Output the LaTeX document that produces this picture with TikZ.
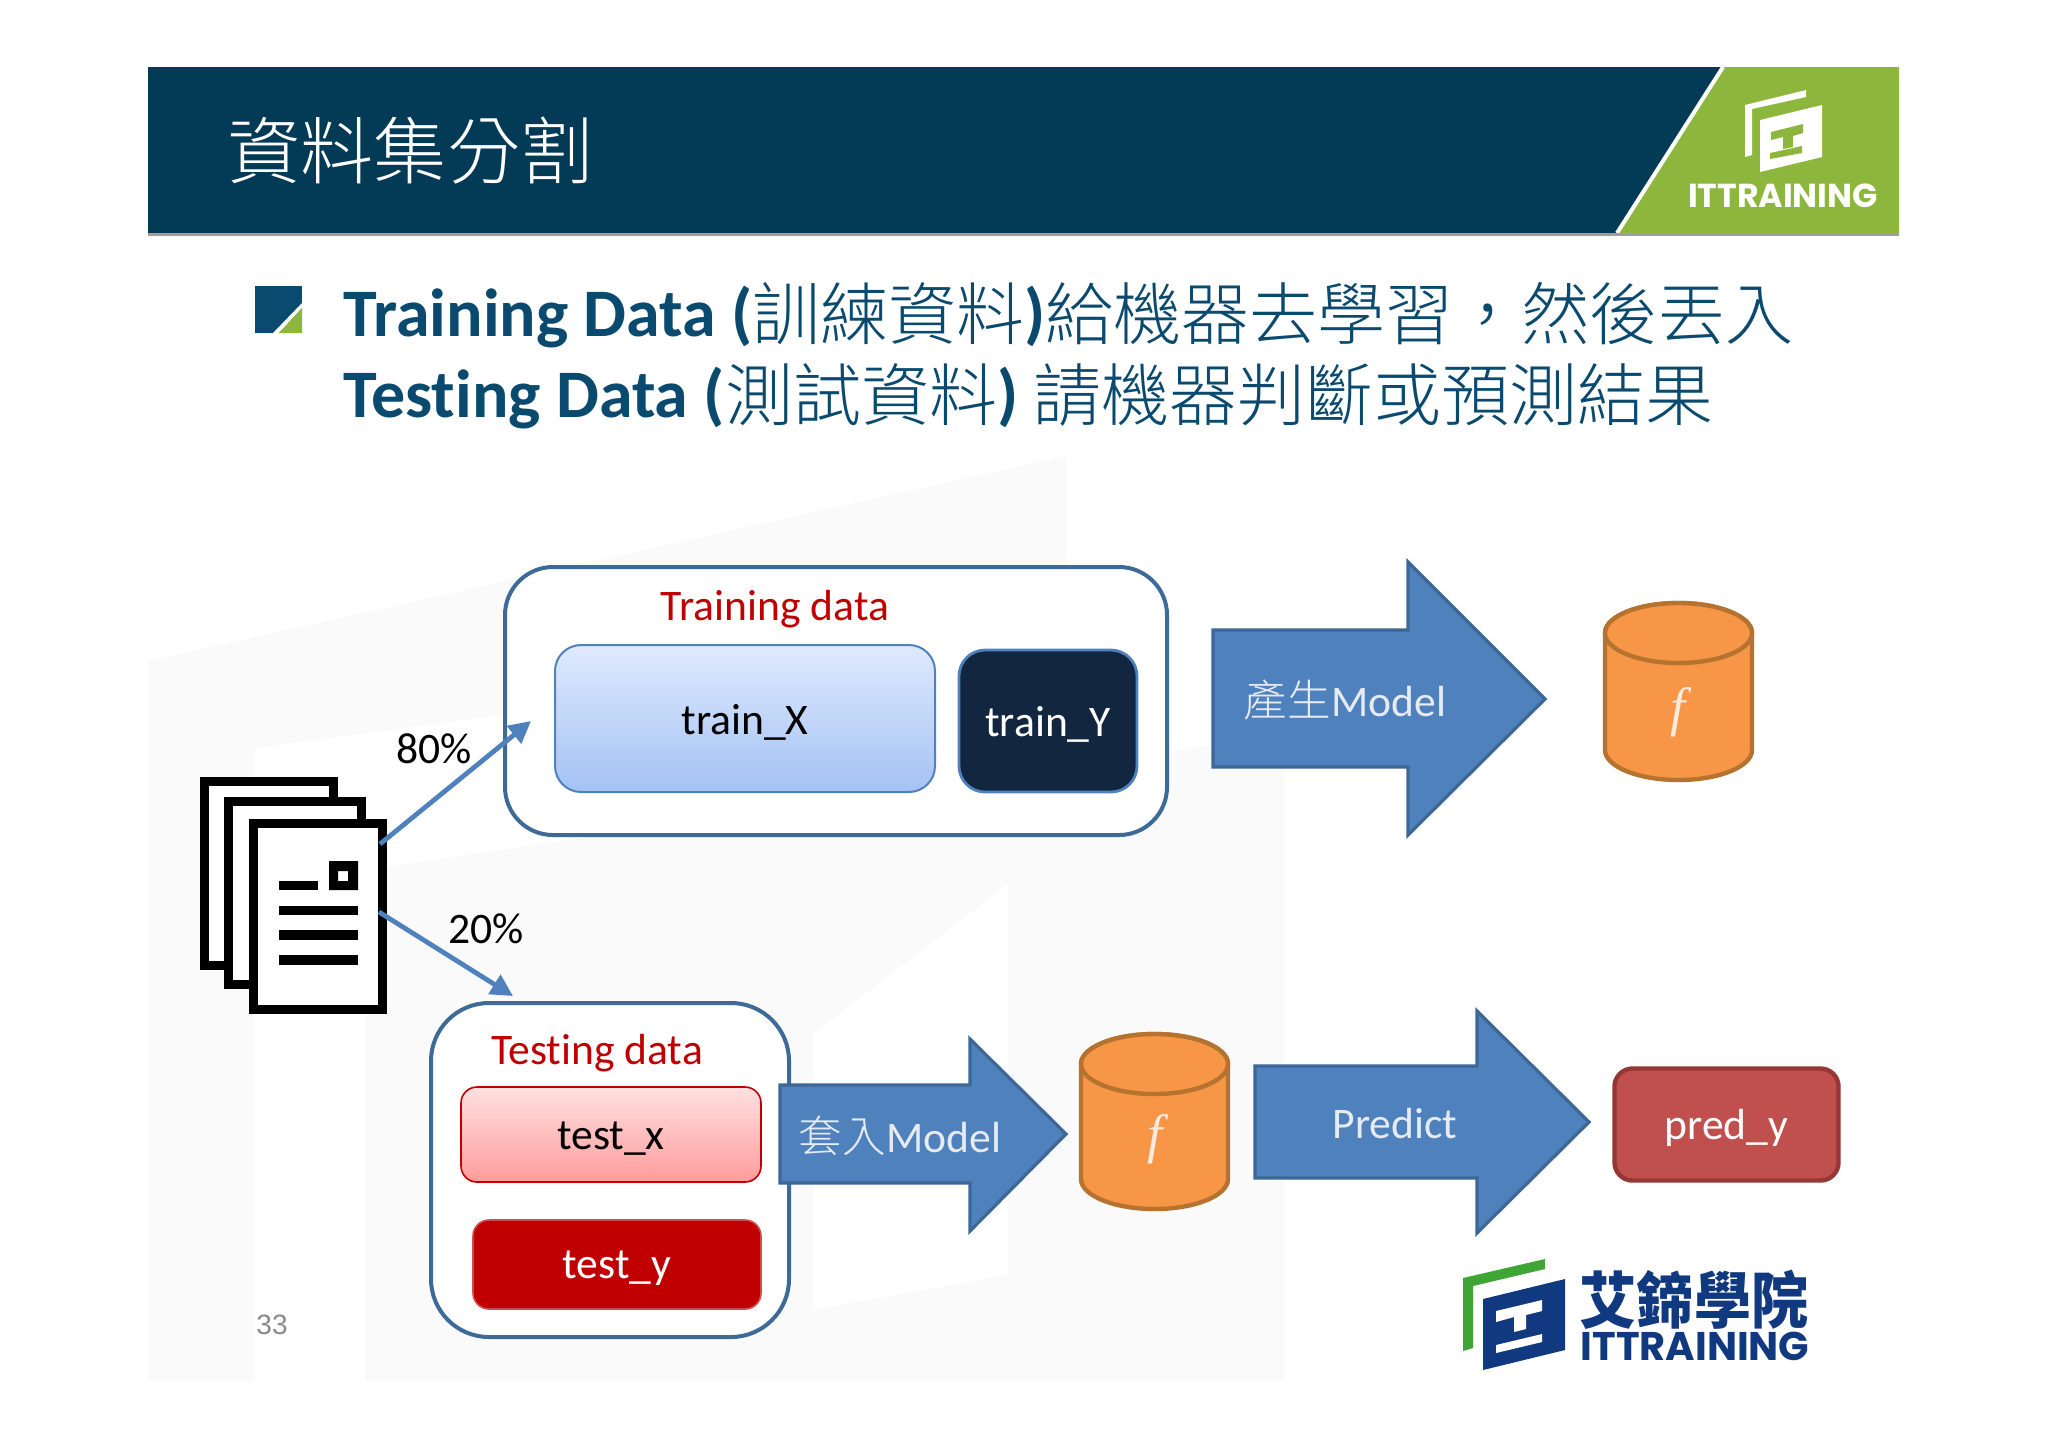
\documentclass[tikz,border=0pt]{standalone}
\usepackage{fontspec}
\setmainfont{Carlito}[Ligatures=CommonOff]
\newfontfamily\cjk{Noto Sans CJK TC Light}
\newfontfamily\cjkheavy{Noto Sans CJK TC}
\newfontfamily\logofont{Poppins}
\newfontfamily\numfont{Liberation Sans}
\newfontfamily\fnfont{Liberation Serif}
\newcommand{\han}[1]{{\cjk\mdseries #1}}
\newcommand{\hanlow}[1]{\raisebox{-1.3pt}{\han{#1}}}
\usetikzlibrary{arrows.meta}
\definecolor{navy}{HTML}{033A55}
\definecolor{leaf}{HTML}{8DB63C}
\definecolor{bodyc}{HTML}{0A4A6E}
\definecolor{boxedge}{HTML}{3E6A97}
\definecolor{arrowfill}{HTML}{4F81BD}
\definecolor{arrowedge}{HTML}{3C6796}
\definecolor{softwhite}{HTML}{E6EAF2}
\definecolor{crimson}{HTML}{C00000}
\definecolor{cylfill}{HTML}{F79646}
\definecolor{cyledge}{HTML}{B5732F}
\definecolor{fnink}{HTML}{FDEBDD}
\definecolor{logoblue}{HTML}{10397F}
\definecolor{logogreen}{HTML}{3FA535}
\definecolor{ghost}{HTML}{FAFAFB}
\definecolor{skytop}{HTML}{DFEAFD}
\definecolor{skybot}{HTML}{A4C2F4}
\definecolor{rosetop}{HTML}{FFE0E0}
\definecolor{rosebot}{HTML}{FF9C9C}
\definecolor{inkblue}{HTML}{12263F}
\definecolor{brick}{HTML}{C0504D}
\definecolor{brickedge}{HTML}{953735}
\newcommand{\drumshape}[3]{% centre x, top of body y, bottom of body y
  \draw[drumline,fill=cylfill] (#1-73.5,#2) -- (#1-73.5,#3)
    arc[start angle=180,end angle=360,x radius=36.75pt,y radius=15pt]
    -- (#1+73.5,#2)
    arc[start angle=0,end angle=180,x radius=36.75pt,y radius=15pt] -- cycle;
  \draw[drumline,fill=cylfill] (#1,#2) ellipse[x radius=36.75pt,y radius=15pt];
}
\tikzset{
  lbl/.style={font=\fontsize{21.8}{24}\selectfont,inner sep=0pt,text depth=0pt},
  outerbox/.style={draw=boxedge,line width=2pt,rounded corners=24pt,fill=white,inner sep=0pt,outer sep=0pt},
  innerbox/.style={lbl,rounded corners=13pt,outer sep=0pt},
  flow/.style={draw=arrowfill,line width=2.4pt,-{Triangle[length=11pt,width=11pt]}},
  bigarrow/.style={fill=arrowfill,draw=arrowedge,line width=1.6pt,miter limit=10},
  drumline/.style={draw=cyledge,line width=2.2pt},
  ink/.style={fill=black,draw=none},
  sheet/.style={draw=black,line width=4.7pt,fill=white,inner sep=0pt,outer sep=0pt,rectangle},
  fn/.style={font=\fnfont\itshape\fontsize{27}{30}\selectfont,text=fnink,inner sep=0pt}
}
\begin{document}
\begin{tikzpicture}[x=0.5pt,y=-0.5pt]
\useasboundingbox (0,0) rectangle (2048,1448);
\fill[white] (0,0) rectangle (2048,1448);
% watermark
\fill[ghost] (148,661) -- (1066,456) -- (1066,640) -- (254,748) -- (254,1381) -- (148,1381) -- cycle;
\fill[ghost] (365,870) -- (1284,735) -- (1284,1381) -- (1008,1381) -- (1008,884) -- (813,1034) -- (813,1310) -- (1008,1275) -- (1008,1381) -- (365,1381) -- cycle;
% header
\fill[navy] (148,67) -- (1723,67) -- (1617,233) -- (148,233) -- cycle;
\fill[leaf] (1723,67) -- (1899,67) -- (1899,233) -- (1617,233) -- cycle;
\draw[white,line width=2pt] (1723,67) -- (1617,233);
\fill[gray!75] (148,233) rectangle (1899,236);
% header logo
\fill[white] (1745,105) -- (1806,90) -- (1806,97) -- (1752,109) -- (1752,155) -- (1745,157) -- cycle;
\fill[white] (1760,120) -- (1822,105) -- (1822,157) -- (1760,172) -- cycle;
\fill[leaf] (1771,132) -- (1803,124) -- (1803,133) -- (1793,136) -- (1793,147) -- (1783,149) -- (1783,137) -- (1771,140) -- cycle;
\fill[leaf] (1770,153) -- (1802,146) -- (1802,153) -- (1770,159) -- cycle;
\node[inner sep=0pt,text=white] (hlogo) at (1783,196) {\logofont\bfseries\fontsize{16.6}{18}\selectfont ITTRAINING};
% title
\node[inner sep=0pt,text=white,anchor=west] (title) at (227,151) {\han{\fontsize{36.6}{40}\selectfont 資料集分割}};
% bullet
\fill[bodyc] (255,286) rectangle (302,333);
\fill[white] (302,303) -- (302,308) -- (279,333) -- (273,333) -- cycle;
\fill[leaf] (302,308) -- (302,333) -- (279,333) -- cycle;
% body text
\node[inner sep=0pt,anchor=west,text=bodyc,font=\fontsize{34}{36}\selectfont] (lineone) at (343,315) {\textbf{Training Data (}\hanlow{訓練資料}\textbf{)}\hanlow{給機器去學習\char"FF0C 然後丟入}};
\node[inner sep=0pt,anchor=west,text=bodyc,font=\fontsize{34}{36}\selectfont] (linetwo) at (343,396) {\textbf{Testing Data (}\hanlow{測試資料}\textbf{) }\hanlow{請機器判斷或預測結果}};
% training box
\node[outerbox,minimum width=331pt,minimum height=134pt] (trainbox) at (836,701) {};
\node[lbl,text=crimson] (trainlabel) at (775,605) {Training data};
\node[innerbox,draw=arrowfill,line width=1pt,top color=skytop,bottom color=skybot,minimum width=190pt,minimum height=73.5pt] (trainx) at (745,718.5) {\raisebox{-1.3pt}{train\_X}};
\node[innerbox,draw=arrowfill,line width=1.4pt,fill=inkblue,text=white,minimum width=89pt,minimum height=71pt] (trainy) at (1048,721) {train\_Y};
% big arrow one
\draw[bigarrow] (1213,630) -- (1408,630) -- (1408,562) -- (1545,699) -- (1408,835) -- (1408,767) -- (1213,767) -- cycle;
\node[lbl,text=softwhite] (makemodel) at (1345,698) {\han{產生}Model};
\drumshape{1678.5}{633}{750}
\node[fn] (fone) at (1678,712) {f};
% test box
\node[outerbox,rounded corners=29pt,minimum width=179pt,minimum height=167pt] (testbox) at (610,1170) {};
\node[lbl,text=crimson] (testlabel) at (597,1049) {Testing data};
\node[innerbox,rounded corners=8pt,draw=crimson,line width=.8pt,top color=rosetop,bottom color=rosebot,minimum width=150pt,minimum height=47.5pt] (testx) at (611,1134.5) {\raisebox{-1.3pt}{test\_x}};
\node[innerbox,rounded corners=8pt,draw=crimson!70!white,line width=.8pt,fill=crimson,text=white,minimum width=144pt,minimum height=44.5pt] (testy) at (617,1264.5) {\raisebox{-0.6pt}{test\_y}};
% big arrow two
\draw[bigarrow] (780,1085) -- (970,1085) -- (970,1039) -- (1066,1134) -- (970,1231) -- (970,1183) -- (780,1183) -- cycle;
\node[lbl,text=softwhite] (applymodel) at (900,1134) {\han{套入}Model};
\drumshape{1154.5}{1064}{1179}
\node[fn] (ftwo) at (1155,1139) {f};
% big arrow three
\draw[bigarrow] (1255,1066) -- (1477,1066) -- (1477,1011) -- (1589,1122) -- (1477,1233) -- (1477,1178) -- (1255,1178) -- cycle;
\node[lbl,text=softwhite] (predict) at (1395,1123) {Predict};
\node[lbl,draw=brickedge,line width=2.2pt,fill=brick,text=white,rounded corners=9pt,minimum width=112pt,minimum height=56pt,outer sep=0pt] (predy) at (1726.5,1124.5) {pred\_y};
% documents icon
\node[sheet,minimum width=64.3pt,minimum height=92.1pt] (sheetback) at (269,873.5) {};
\node[sheet,minimum width=66.3pt,minimum height=91.6pt] (sheetmid) at (295,893) {};
\node[sheet,minimum width=64.3pt,minimum height=92.8pt] (sheetfront) at (318,916.5) {};
\fill[ink] (279,881) rectangle (318,890);
\fill[ink,even odd rule] (329,861) rectangle (358,890) (338,871) rectangle (348,881);
\fill[ink] (279,906) rectangle (358,915);
\fill[ink] (279,930) rectangle (358,940);
\fill[ink] (279,955) rectangle (358,965);
% connectors
\coordinate (outup) at (380,844);
\coordinate (inup) at (531,721);
\coordinate (outdown) at (379,912);
\coordinate (indown) at (513,996);
\draw[flow] (outup) -- (inup);
\draw[flow] (outdown) -- (indown);
\node[lbl,text=black] (pcteighty) at (434,749) {80\%};
\node[lbl,text=black] (pcttwenty) at (486,929) {20\%};
% page number
\node[inner sep=0pt,text=black!46] (pagenum) at (272,1325) {\numfont\fontsize{14}{16}\selectfont 33};
% bottom logo
\fill[logogreen] (1463,1278) -- (1545,1259) -- (1545,1269) -- (1473,1286) -- (1473,1348) -- (1463,1351) -- cycle;
\fill[logoblue] (1483,1299) -- (1565,1279) -- (1565,1350) -- (1483,1370) -- cycle;
\fill[white] (1496,1311) -- (1542,1300) -- (1542,1311) -- (1526,1315) -- (1526,1329) -- (1514,1332) -- (1514,1317) -- (1496,1322) -- cycle;
\fill[white] (1496,1345) -- (1542,1334) -- (1542,1342) -- (1496,1353) -- cycle;
\node[inner sep=0pt,text=logoblue] (logoname) at (1694,1300) {\scalebox{1.02}[1.1]{\cjkheavy\bfseries\fontsize{28}{30}\selectfont 艾鍗學院}};
\node[inner sep=0pt,text=logoblue] (logolatin) at (1695,1346) {\logofont\bfseries\fontsize{20}{22}\selectfont ITTRAINING};
\end{tikzpicture}
\end{document}
